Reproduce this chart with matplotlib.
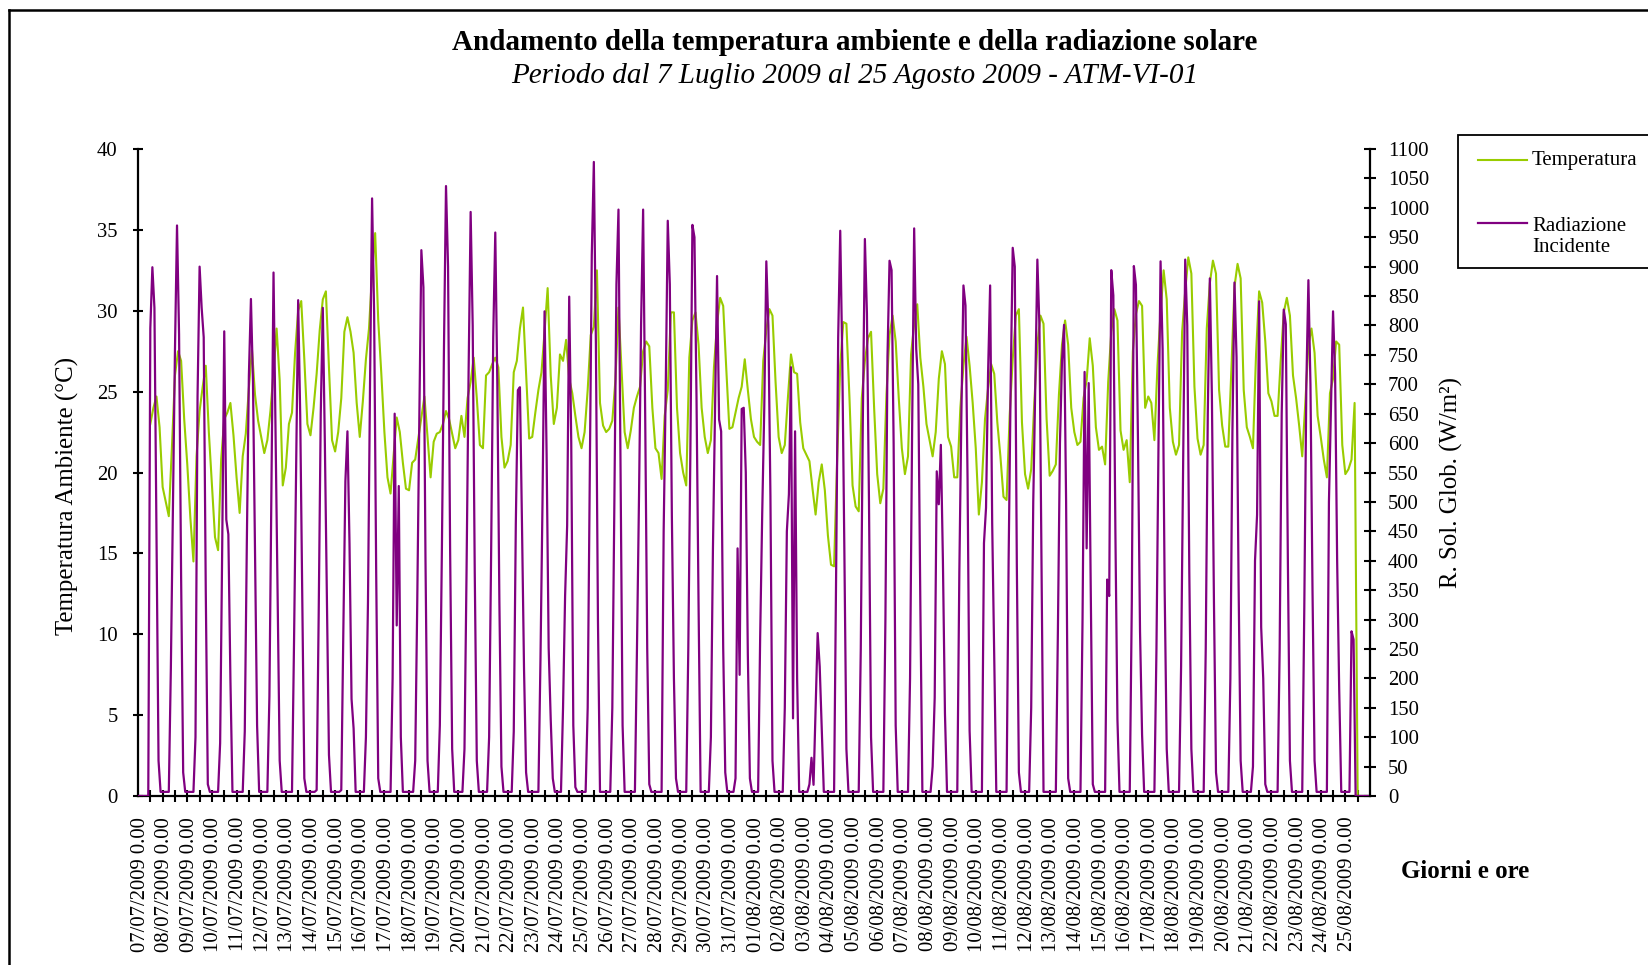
import numpy as np
import matplotlib
matplotlib.use('Agg')
import matplotlib.pyplot as plt
from matplotlib.lines import Line2D
from matplotlib.patches import Rectangle
from datetime import date, timedelta

# ---------------- data ----------------
start_day = date(2009, 7, 7)
n_days = 50
day_labels = [(start_day + timedelta(days=i)).strftime('%d/%m/%Y') + ' 0.00' for i in range(n_days)]

rad_hours = [0, 2, 4, 6, 8, 10, 12, 14, 16, 18, 20, 22]   # sampling hours of radiation
temp_hours = [0, 3, 6, 9, 12, 15, 18, 21]                  # sampling hours of temperature

# Radiazione incidente (W/m2), one row per day (07/07 ... 25/08)
rad_by_day = [
    [0, 0, 0, 0, 0, 0, 795, 899, 830, 450, 60, 7],
    [7, 7, 7, 7, 217, 488, 758, 970, 785, 371, 40, 7],
    [7, 7, 7, 7, 100, 680, 900, 830, 780, 350, 20, 7],
    [7, 7, 7, 7, 90, 420, 790, 470, 445, 200, 7, 7],
    [7, 7, 7, 7, 110, 430, 715, 845, 704, 412, 120, 7],
    [7, 7, 7, 7, 170, 540, 890, 620, 340, 60, 7, 7],
    [7, 7, 7, 7, 265, 560, 843, 647, 332, 30, 7, 7],
    [7, 7, 7, 10, 310, 650, 830, 600, 330, 70, 7, 7],
    [7, 7, 7, 10, 280, 535, 620, 430, 165, 115, 7, 7],
    [7, 7, 7, 100, 330, 700, 1016, 820, 380, 30, 7, 7],
    [7, 7, 7, 7, 200, 650, 290, 527, 100, 7, 7, 7],
    [7, 7, 7, 60, 330, 640, 928, 865, 406, 60, 7, 7],
    [7, 7, 7, 120, 420, 760, 1037, 900, 420, 80, 7, 7],
    [7, 7, 7, 80, 380, 720, 993, 800, 380, 60, 7, 7],
    [7, 7, 7, 100, 420, 780, 958, 700, 330, 50, 7, 7],
    [7, 7, 7, 110, 463, 690, 695, 463, 216, 40, 7, 7],
    [7, 7, 7, 7, 230, 500, 824, 580, 252, 130, 30, 7],
    [7, 7, 7, 150, 340, 460, 849, 600, 120, 15, 7, 7],
    [7, 7, 7, 150, 530, 920, 1078, 770, 300, 7, 7, 7],
    [7, 7, 7, 150, 500, 870, 997, 560, 120, 7, 7, 7],
    [7, 7, 7, 250, 510, 800, 997, 650, 250, 20, 7, 7],
    [7, 7, 7, 7, 450, 690, 978, 870, 476, 200, 30, 7],
    [7, 7, 7, 7, 250, 580, 971, 950, 678, 325, 7, 7],
    [7, 7, 7, 100, 420, 650, 884, 640, 620, 252, 40, 7],
    [7, 7, 7, 30, 421, 206, 658, 660, 550, 240, 30, 7],
    [7, 7, 7, 270, 480, 660, 909, 800, 510, 60, 7, 7],
    [7, 7, 7, 150, 450, 513, 729, 132, 620, 200, 7, 7],
    [7, 7, 7, 20, 65, 19, 150, 277, 220, 111, 7, 7],
    [7, 7, 7, 7, 380, 780, 961, 740, 420, 80, 7, 7],
    [7, 7, 7, 7, 250, 640, 947, 820, 500, 100, 7, 7],
    [7, 7, 7, 7, 300, 746, 910, 894, 600, 120, 7, 7],
    [7, 7, 7, 7, 200, 620, 965, 760, 700, 330, 7, 7],
    [7, 7, 7, 50, 167, 552, 496, 597, 400, 140, 7, 7],
    [7, 7, 7, 7, 380, 650, 868, 834, 540, 111, 7, 7],
    [7, 7, 7, 7, 430, 490, 720, 868, 464, 240, 7, 7],
    [7, 7, 7, 7, 400, 700, 932, 900, 393, 40, 7, 7],
    [7, 7, 7, 150, 500, 700, 912, 800, 400, 7, 7, 7],
    [7, 7, 7, 7, 280, 600, 740, 801, 500, 30, 7, 7],
    [7, 7, 7, 7, 300, 721, 421, 702, 350, 20, 7, 7],
    [7, 7, 7, 7, 368, 340, 894, 851, 450, 130, 7, 7],
    [7, 7, 7, 7, 330, 901, 869, 605, 280, 104, 7, 7],
    [7, 7, 7, 7, 250, 600, 909, 760, 350, 80, 7, 7],
    [7, 7, 7, 7, 220, 560, 912, 800, 380, 80, 7, 7],
    [7, 7, 7, 7, 250, 650, 880, 680, 330, 40, 7, 7],
    [7, 7, 7, 7, 200, 620, 873, 746, 360, 60, 7, 7],
    [7, 7, 7, 50, 400, 478, 841, 287, 200, 20, 7, 7],
    [7, 7, 7, 7, 250, 650, 827, 802, 400, 60, 7, 7],
    [7, 7, 7, 7, 320, 700, 877, 700, 350, 60, 7, 7],
    [7, 7, 7, 7, 500, 661, 824, 718, 400, 181, 7, 7],
    [7, 7, 7, 280, 266, 0, 0, 0, 0, 0, 0, 0],
]

# Temperatura ambiente (degC), one row per day
temp_by_day = [
    [None, None, None, None, 23.0, 24.0, 24.7, 22.8],
    [19.1, 18.2, 17.3, 21.5, 26.0, 27.5, 26.9, 23.3],
    [20.5, 17.2, 14.5, 21.0, 23.8, 25.3, 26.6, 22.5],
    [19.3, 16.0, 15.2, 20.8, 23.3, 23.7, 24.3, 22.3],
    [19.7, 17.5, 21.0, 22.4, 25.2, 27.6, 24.8, 23.2],
    [22.2, 21.2, 22.0, 23.8, 26.2, 28.9, 25.7, 19.2],
    [20.3, 23.0, 23.7, 27.4, 30.0, 30.6, 27.0, 23.0],
    [22.3, 24.0, 26.1, 28.8, 30.7, 31.2, 26.5, 22.0],
    [21.3, 22.5, 24.6, 28.7, 29.6, 28.7, 27.4, 24.3],
    [22.2, 24.4, 27.0, 28.9, 32.3, 34.8, 29.4, 26.1],
    [22.5, 19.7, 18.7, 21.1, 23.4, 22.5, 20.6, 19.0],
    [18.9, 20.6, 20.8, 22.1, 23.4, 24.7, 22.2, 19.7],
    [21.9, 22.4, 22.5, 23.0, 23.8, 23.3, 22.4, 21.5],
    [22.0, 23.5, 22.2, 24.6, 25.6, 27.1, 24.6, 21.7],
    [21.5, 26.0, 26.2, 26.7, 27.1, 26.5, 22.2, 20.3],
    [20.7, 21.7, 26.2, 26.9, 28.9, 30.2, 26.1, 22.1],
    [22.2, 23.7, 25.1, 26.2, 28.7, 31.4, 26.0, 23.0],
    [24.0, 27.3, 26.9, 28.2, 25.8, 24.9, 23.5, 22.2],
    [21.5, 22.5, 25.1, 28.5, 29.0, 32.5, 24.3, 22.9],
    [22.5, 22.7, 23.2, 25.7, 30.2, 26.4, 22.5, 21.5],
    [22.6, 24.0, 24.7, 25.3, 27.5, 28.1, 27.8, 24.0],
    [21.5, 21.2, 19.6, 23.5, 25.1, 29.9, 29.9, 24.0],
    [21.2, 20.0, 19.2, 27.1, 29.4, 29.9, 27.9, 24.0],
    [22.2, 21.2, 22.0, 26.5, 29.2, 30.8, 30.3, 26.4],
    [22.7, 22.8, 23.7, 24.6, 25.3, 27.0, 25.1, 23.3],
    [22.2, 21.9, 21.7, 26.9, 28.8, 30.1, 29.7, 25.6],
    [22.2, 21.2, 21.7, 24.6, 27.3, 26.2, 26.1, 23.1],
    [21.5, 21.1, 20.7, 19.0, 17.4, 19.4, 20.5, 18.9],
    [16.1, 14.3, 14.2, 20.8, 26.6, 29.3, 29.2, 24.6],
    [19.2, 17.9, 17.6, 24.6, 26.9, 28.3, 28.7, 24.0],
    [19.9, 18.1, 19.0, 24.8, 28.5, 29.7, 28.1, 24.6],
    [21.5, 19.9, 21.0, 27.3, 29.2, 30.4, 27.1, 25.3],
    [23.0, 22.0, 21.0, 22.5, 25.8, 27.5, 26.7, 22.2],
    [21.6, 19.7, 19.7, 24.0, 26.6, 28.4, 26.6, 24.3],
    [21.5, 17.4, 19.4, 23.3, 25.2, 26.7, 26.1, 23.1],
    [21.0, 18.5, 18.3, 23.5, 27.0, 29.7, 30.1, 23.1],
    [19.9, 19.0, 20.2, 24.3, 27.9, 29.7, 29.2, 23.3],
    [19.8, 20.1, 20.5, 24.8, 27.9, 29.4, 27.9, 24.0],
    [22.5, 21.7, 21.9, 24.6, 25.7, 28.3, 26.6, 22.8],
    [21.4, 21.6, 20.5, 25.6, 28.7, 30.1, 29.4, 22.6],
    [21.4, 22.0, 19.4, 27.5, 29.8, 30.6, 30.3, 24.0],
    [24.7, 24.3, 22.0, 26.6, 29.9, 32.5, 30.7, 24.0],
    [21.9, 21.1, 21.7, 28.7, 31.2, 33.3, 32.3, 25.3],
    [22.1, 21.1, 21.7, 28.9, 31.7, 33.1, 32.3, 25.1],
    [22.9, 21.6, 21.6, 26.4, 31.5, 32.9, 32.0, 25.1],
    [22.8, 22.2, 21.5, 27.3, 31.2, 30.5, 28.1, 24.9],
    [24.4, 23.5, 23.5, 26.9, 29.9, 30.8, 29.7, 26.0],
    [24.6, 22.9, 21.0, 24.3, 27.9, 28.9, 27.4, 23.5],
    [22.2, 20.8, 19.7, 24.9, 25.8, 28.1, 27.9, 21.7],
    [19.9, 20.2, 20.8, 24.3, 0.0, 0.0, 0.0, 0.0],
]

temp_ticks = list(range(0, 41, 5))
rad_ticks = list(range(0, 1101, 50))

title = 'Andamento della temperatura ambiente e della radiazione solare'
subtitle = 'Periodo dal 7 Luglio 2009 al 25 Agosto 2009 - ATM-VI-01'
series_names = ['Temperatura', 'Radiazione\nIncidente']
GREEN = '#99CC00'
PURPLE = '#800080'

# ---------------- figure ----------------
W, H = 1648, 965
plt.rcParams['font.family'] = ['Liberation Serif', 'DejaVu Serif']
fig = plt.figure(figsize=(W / 100, H / 100), dpi=100)


def fx(px):
    return px / W


def fy(py):
    return 1 - py / H


L, R, T, B = 138, 1370, 149, 796
ax = fig.add_axes([fx(L), fy(B), (R - L) / W, (B - T) / H])
ax2 = ax.twinx()

t_x = np.array([24 * d + h for d in range(n_days) for h in temp_hours], float)
t_y = np.array(temp_by_day, dtype=float).ravel()
r_x = np.array([24 * d + h for d in range(n_days) for h in rad_hours], float)
r_y = np.array(rad_by_day, dtype=float).ravel()

ax.plot(t_x, t_y, color=GREEN, lw=1.5, solid_joinstyle='round')
ax2.plot(r_x, r_y, color=PURPLE, lw=1.6, solid_joinstyle='round')

ax.set_xlim(0, 24 * n_days)
ax.set_ylim(0, 40)
ax2.set_ylim(0, 1100)

for s in ['top', 'right']:
    ax.spines[s].set_visible(False)
for s in ['top', 'left', 'bottom']:
    ax2.spines[s].set_visible(False)
ax.spines['left'].set_linewidth(1.6)
ax.spines['bottom'].set_linewidth(1.6)
ax2.spines['right'].set_linewidth(1.6)

ax.set_yticks(temp_ticks)
ax.set_yticklabels([str(v) for v in temp_ticks])
ax.tick_params(axis='y', direction='inout', length=7.5, width=1.5, labelsize=14.9, pad=11)
ax2.set_yticks(rad_ticks)
ax2.set_yticklabels([str(v) for v in rad_ticks])
ax2.tick_params(axis='y', direction='inout', length=8.6, width=1.5, labelsize=14.9, pad=8.6)

ax.set_xticks([24 * k + 2 for k in range(n_days)])
ax.set_xticklabels(day_labels, rotation=90)
ax.tick_params(axis='x', which='major', length=0, pad=15, labelsize=14.9)
ax.set_xticks([12 * k for k in range(1, 2 * n_days)], minor=True)
ax.tick_params(axis='x', which='minor', direction='inout', length=8, width=1.5)

# titles
fig.text(fx(855), fy(42), title, ha='center', va='center', fontsize=21, fontweight='bold')
fig.text(fx(855), fy(76), subtitle, ha='center', va='center', fontsize=21, style='italic')
fig.text(fx(67), fy(496), 'Temperatura Ambiente (°C)', rotation=90, ha='center', va='center', fontsize=17.9)
fig.text(fx(1451), fy(483), 'R. Sol. Glob. (W/m²)', rotation=90, ha='center', va='center', fontsize=17.9)
fig.text(fx(1465), fy(872), 'Giorni e ore', ha='center', va='center', fontsize=17.9, fontweight='bold')

# legend
fig.add_artist(Rectangle((fx(1458), fy(268)), fx(1660) - fx(1458), (268 - 135) / H,
                         transform=fig.transFigure, facecolor='white', edgecolor='black', lw=1.3))
fig.add_artist(Line2D([fx(1478), fx(1527)], [fy(160), fy(160)], color=GREEN, lw=1.5,
                      transform=fig.transFigure))
fig.add_artist(Line2D([fx(1478), fx(1527)], [fy(223), fy(223)], color=PURPLE, lw=1.6,
                      transform=fig.transFigure))
fig.text(fx(1532), fy(161), series_names[0], ha='left', va='center', fontsize=15)
fig.text(fx(1532), fy(237), series_names[1], ha='left', va='center', fontsize=15, linespacing=1.1)

# outer chart border (cropped at right / bottom)
fig.add_artist(Line2D([fx(9), fx(9)], [fy(10), 0], color='black', lw=1.8, transform=fig.transFigure))
fig.add_artist(Line2D([fx(9), 1], [fy(10), fy(10)], color='black', lw=1.8, transform=fig.transFigure))

fig.savefig('out.png', dpi=100)
